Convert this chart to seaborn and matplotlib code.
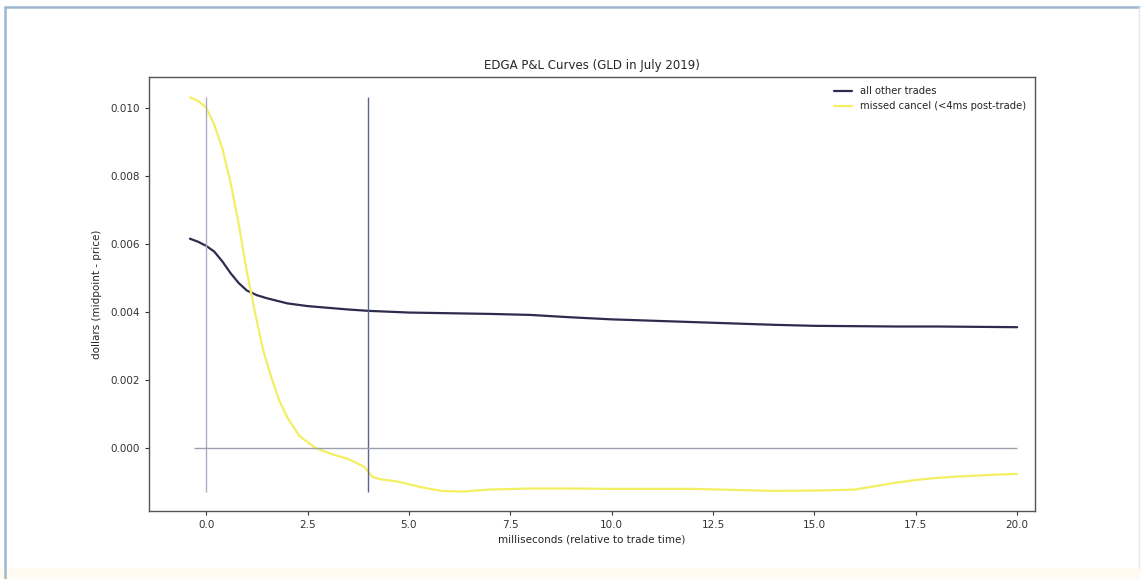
import numpy as np
import pandas as pd
import matplotlib
matplotlib.use('Agg')
import matplotlib.pyplot as plt
import seaborn as sns
from matplotlib.patches import Rectangle
from matplotlib.lines import Line2D

# ================================
# DATA
# ================================
ms_other = [-0.4, -0.2, 0.0, 0.2, 0.4, 0.6, 0.8, 1.0, 1.25, 1.5, 2.0, 2.5, 3.0,
            3.5, 4.0, 5.0, 6.0, 7.0, 8.0, 9.0, 10.0, 11.0, 12.0, 13.0, 14.0,
            15.0, 16.0, 17.0, 18.0, 19.0, 20.0]
pnl_other = [0.00615, 0.00606, 0.00594, 0.00577, 0.00548, 0.00514, 0.00485, 0.00463,
             0.00449, 0.0044, 0.00425, 0.00417, 0.00412, 0.00407, 0.00403, 0.00398,
             0.00396, 0.00394, 0.00391, 0.00384, 0.00378, 0.00374, 0.00370, 0.00366,
             0.00362, 0.00359, 0.00358, 0.00357, 0.00357, 0.00356, 0.00355]

ms_missed = [-0.4, -0.2, 0.0, 0.2, 0.4, 0.6, 0.8, 1.0, 1.2, 1.4, 1.6, 1.8, 2.0,
             2.3, 2.7, 3.1, 3.5, 3.9, 4.1, 4.3, 4.7, 5.3, 5.8, 6.3, 7.0, 8.0,
             9.0, 10.0, 11.0, 12.0, 13.0, 14.0, 15.0, 16.0, 16.5, 17.0, 17.5,
             18.0, 18.5, 19.0, 19.5, 20.0]
pnl_missed = [0.0103, 0.0102, 0.0100, 0.0095, 0.0088, 0.0078, 0.0066, 0.0052,
              0.0040, 0.0029, 0.0021, 0.0014, 0.0009, 0.00035, 0.0000, -0.00018,
              -0.00032, -0.00055, -0.00085, -0.00092, -0.00098, -0.00115, -0.00126,
              -0.00128, -0.00122, -0.00119, -0.00119, -0.0012, -0.0012, -0.0012,
              -0.00123, -0.00126, -0.00125, -0.00122, -0.00112, -0.00102, -0.00094,
              -0.00088, -0.00084, -0.00081, -0.00078, -0.00076]

labels = ['all other trades', 'missed cancel (<4ms post-trade)']
cutoff_ms = 4.0

df = pd.concat([
    pd.DataFrame({'ms': ms_other, 'pnl': pnl_other, 'group': labels[0]}),
    pd.DataFrame({'ms': ms_missed, 'pnl': pnl_missed, 'group': labels[1]}),
])

# ================================
# PLOT
# ================================
sns.set_style('ticks')
plt.rcParams['font.family'] = ['DejaVu Sans']

fig = plt.figure(figsize=(11.41, 5.79), dpi=100)
ax = fig.add_axes([149 / 1141, 1 - 511 / 579, (1035 - 149) / 1141, (511 - 77) / 579])

palette = {labels[0]: '#2f2b4e', labels[1]: '#f4ee62'}
sns.lineplot(data=df, x='ms', y='pnl', hue='group', palette=palette,
             linewidth=1.6, ax=ax)

ymin, ymax = min(pnl_missed), max(pnl_missed)
ax.vlines(0, ymin, ymax, color='#a9adc4', linewidth=1)
ax.vlines(cutoff_ms, ymin, ymax, color='#5c6491', linewidth=1)
ax.hlines(0, -0.3, 20, color='#9da0ad', linewidth=1)

ax.set_xlim(-1.41, 20.44)
ax.set_ylim(-0.00185, 0.0109)
ax.set_xticks([0, 2.5, 5, 7.5, 10, 12.5, 15, 17.5, 20])
ax.set_yticks([0.0, 0.002, 0.004, 0.006, 0.008, 0.010])
ax.yaxis.set_major_formatter(matplotlib.ticker.FormatStrFormatter('%.3f'))
ax.tick_params(labelsize=7.5, colors='#333333', length=3)
for s in ax.spines.values():
    s.set_visible(True)
    s.set_color('#555555')
    s.set_linewidth(1)

ax.set_title('EDGA P&L Curves (GLD in July 2019)', fontsize=8.5, pad=6)
ax.set_xlabel('milliseconds (relative to trade time)', fontsize=7.5, labelpad=3)
ax.set_ylabel('dollars (midpoint - price)', fontsize=7.5, labelpad=6)

ax.legend(loc='upper right', fontsize=7.2, frameon=False, handlelength=1.8,
          bbox_to_anchor=(1.0, 1.0))

# screenshot frame around the chart
W, H = 1141, 579
fig.patches.append(Rectangle((0, 0), 1, 11 / H, transform=fig.transFigure,
                             color='#fffbf0', zorder=-1))
fig.lines.append(Line2D([5 / W, 1 - 2 / W], [1 - 7 / H, 1 - 7 / H],
                        transform=fig.transFigure, color='#9cb7cf', linewidth=1.8))
fig.lines.append(Line2D([5 / W, 5 / W], [0, 1 - 7 / H],
                        transform=fig.transFigure, color='#9cb7cf', linewidth=1.8))
fig.lines.append(Line2D([1 - 2 / W, 1 - 2 / W], [11 / H, 1 - 7 / H],
                        transform=fig.transFigure, color='#dfe8f0', linewidth=1))

fig.savefig('out.png', dpi=100)
